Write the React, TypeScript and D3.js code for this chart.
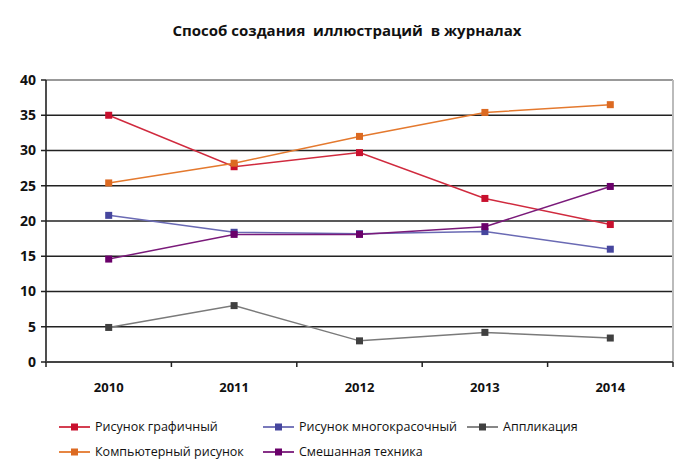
import React from "react";
import * as d3 from "d3";

const years = ["2010", "2011", "2012", "2013", "2014"];
const yTicks = [0, 5, 10, 15, 20, 25, 30, 35, 40];
const risGraf = [35.0, 27.7, 29.7, 23.2, 19.5];
const risMnogo = [20.8, 18.4, 18.2, 18.5, 16.0];
const applikacia = [4.9, 8.0, 3.0, 4.2, 3.4];
const kompRis = [25.4, 28.2, 32.0, 35.4, 36.5];
const smeshTech = [14.6, 18.1, 18.1, 19.2, 24.9];

const seriesNames = [
  "Рисунок графичный",
  "Рисунок многокрасочный",
  "Аппликация",
  "Компьютерный рисунок",
  "Смешанная техника",
];
const title = "Способ создания  иллюстраций  в журналах";

const series = [
  { name: seriesNames[0], values: risGraf, line: "#d02a3e", marker: "#c8102e" },
  { name: seriesNames[1], values: risMnogo, line: "#6a6ab4", marker: "#46469e" },
  { name: seriesNames[2], values: applikacia, line: "#7a7a7a", marker: "#404040" },
  { name: seriesNames[3], values: kompRis, line: "#e4792e", marker: "#dc6a22" },
  { name: seriesNames[4], values: smeshTech, line: "#7a1a7a", marker: "#6a006a" },
];

const W = 700, H = 475;
const L = 46, R = 673, T = 80, B = 362;
const FONT = "'Open Sans', 'DejaVu Sans', sans-serif";

export default function App() {
  const x = d3.scaleBand<string>().domain(years).range([L, R]);
  const y = d3.scaleLinear().domain([0, 40]).range([B, T]);
  const cx = (yr: string) => (x(yr) as number) + x.bandwidth() / 2;
  const line = d3
    .line<number>()
    .x((_, i) => cx(years[i]))
    .y((v) => y(v));

  const legendPos = [
    { x: 59, y: 427 },
    { x: 263, y: 427 },
    { x: 467, y: 427 },
    { x: 59, y: 452 },
    { x: 263, y: 452 },
  ];

  const bounds = [...years.map((yr) => x(yr) as number), R];

  return (
    <svg
      width={W}
      height={H}
      style={{ position: "absolute", left: 0, top: 0, background: "#fff" }}
      fontFamily={FONT}
    >
      <rect x={0} y={0} width={W} height={H} fill="#fff" />
      <text
        x={347}
        y={36}
        textAnchor="middle"
        fontSize={15}
        fontWeight="bold"
        fill="#111"
        style={{ whiteSpace: "pre" }}
        xmlSpace="preserve"
      >
        {title}
      </text>
      {yTicks.map((t) => (
        <g key={t}>
          {t > 0 && (
            <line
              x1={L}
              x2={R}
              y1={y(t)}
              y2={y(t)}
              stroke={t === 40 ? "#777" : "#222"}
              strokeWidth={1.6}
            />
          )}
          <line x1={L - 5} x2={L} y1={y(t)} y2={y(t)} stroke="#222" strokeWidth={1.5} />
          <text
            x={L - 10}
            y={y(t)}
            dy="0.35em"
            textAnchor="end"
            fontSize={14}
            fontWeight="bold"
            fill="#111"
          >
            {t}
          </text>
        </g>
      ))}
      <line x1={R} x2={R} y1={T} y2={B} stroke="#bbb" strokeWidth={2} />
      <line x1={L} x2={L} y1={T} y2={B + 1} stroke="#222" strokeWidth={1.6} />
      <line x1={L} x2={R} y1={B} y2={B} stroke="#444" strokeWidth={2} />
      {bounds.map((b, i) => (
        <line key={i} x1={b} x2={b} y1={B} y2={B + 5} stroke="#222" strokeWidth={1.5} />
      ))}
      {years.map((yr) => (
        <text
          key={yr}
          x={cx(yr)}
          y={392}
          textAnchor="middle"
          fontSize={13}
          fontWeight="bold"
          fill="#111"
        >
          {yr}
        </text>
      ))}
      {series.map((s) => (
        <g key={s.name}>
          <path d={line(s.values) || ""} fill="none" stroke={s.line} strokeWidth={1.5} />
          {s.values.map((v, i) => (
            <rect
              key={i}
              x={cx(years[i]) - 3.5}
              y={y(v) - 3.5}
              width={7}
              height={7}
              fill={s.marker}
            />
          ))}
        </g>
      ))}
      {series.map((s, i) => {
        const p = legendPos[i];
        return (
          <g key={s.name}>
            <line x1={p.x} x2={p.x + 31} y1={p.y} y2={p.y} stroke={s.line} strokeWidth={1.8} />
            <rect x={p.x + 12} y={p.y - 3.5} width={7} height={7} fill={s.marker} />
            <text x={p.x + 36} y={p.y} dy="0.35em" fontSize={12.5} fill="#111">
              {s.name}
            </text>
          </g>
        );
      })}
    </svg>
  );
}
